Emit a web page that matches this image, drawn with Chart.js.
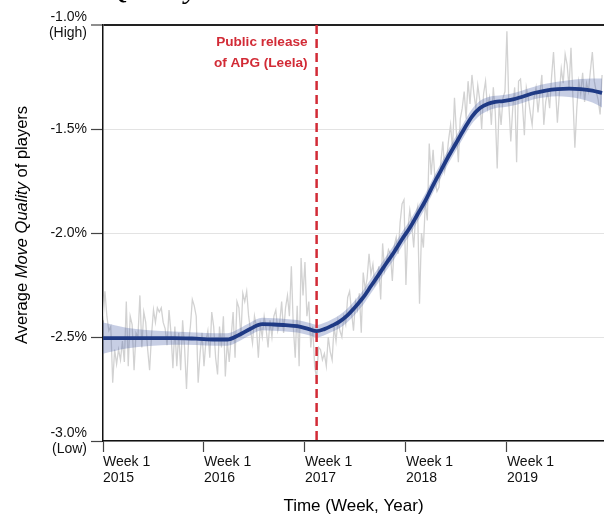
<!DOCTYPE html>
<html>
<head>
<meta charset="utf-8">
<script src="https://cdn.jsdelivr.net/npm/chart.js@4.4.1/dist/chart.umd.min.js"></script>
<style>
  html, body { margin: 0; padding: 0; background: #fff; }
  canvas { display: block; }
</style>
</head>
<body>
<canvas id="qualityChart" width="604" height="515"></canvas>
<script>
//------------------ Data ------------------//
// weekly average move quality (%), week 0 = Week 1 2015
const rawValues = [
  -2.42, -2.28, -2.40, -2.47, -2.45, -2.72, -2.56, -2.63, -2.56, -2.61,
  -2.52, -2.62, -2.33, -2.64, -2.40, -2.44, -2.66, -2.48, -2.50, -2.30,
  -2.55, -2.38, -2.43, -2.56, -2.66, -2.49, -2.37, -2.43, -2.36, -2.38,
  -2.36, -2.43, -2.46, -2.54, -2.37, -2.48, -2.65, -2.45, -2.64, -2.48,
  -2.66, -2.42, -2.55, -2.75, -2.53, -2.45, -2.32, -2.35, -2.40, -2.72,
  -2.58, -2.48, -2.64, -2.52, -2.47, -2.60, -2.38, -2.45, -2.60, -2.68,
  -2.45, -2.55, -2.40, -2.69, -2.52, -2.62, -2.50, -2.38, -2.60, -2.33,
  -2.36, -2.50, -2.29, -2.33, -2.28, -2.40, -2.47, -2.53, -2.40, -2.45,
  -2.60, -2.44, -2.50, -2.40, -2.46, -2.55, -2.42, -2.50, -2.40, -2.37,
  -2.47, -2.43, -2.33, -2.48, -2.36, -2.30, -2.40, -2.16, -2.45, -2.60,
  -2.35, -2.64, -2.12, -2.30, -2.14, -2.40, -2.33, -2.55, -2.45, -2.64,
  -2.70, -2.55, -2.56, -2.61, -2.58, -2.64, -2.50, -2.57, -2.61, -2.45,
  -2.52, -2.42, -2.47, -2.50, -2.40, -2.44, -2.31, -2.28, -2.38, -2.47,
  -2.33, -2.37, -2.29, -2.48, -2.19, -2.27, -2.22, -2.10, -2.20, -2.15,
  -2.25, -2.23, -2.16, -2.32, -2.05, -2.18, -2.13, -2.08, -2.10, -2.23,
  -2.06, -2.02, -2.10, -1.95, -1.86, -1.84, -2.25, -1.98, -1.89, -1.96,
  -2.07, -1.92, -1.875, -2.34, -2.00, -2.07, -1.85, -1.94, -1.57, -1.72,
  -1.60, -1.75, -1.80, -1.78, -1.66, -1.56, -1.70, -1.64, -1.55, -1.48,
  -1.60, -1.35, -1.52, -1.66, -1.45, -1.40, -1.32, -1.45, -1.27, -1.38,
  -1.24, -1.33, -1.40, -1.29, -1.36, -1.50, -1.33, -1.27, -1.40, -1.35,
  -1.48, -1.30, -1.42, -1.69, -1.38, -1.48, -1.35, -1.32, -1.03, -1.38,
  -1.56, -1.40, -1.30, -1.66, -1.27, -1.26, -1.38, -1.53, -1.30, -1.35,
  -1.42, -1.48, -1.35, -1.30, -1.42, -1.33, -1.24, -1.48, -1.37, -1.32,
  -1.40, -1.25, -1.13, -1.30, -1.47, -1.33, -1.21, -1.28, -1.14, -1.19,
  -1.30, -1.11, -1.35, -1.59, -1.40, -1.27, -1.33, -1.23, -1.37, -1.28,
  -1.32, -1.22, -1.13, -1.27, -1.32, -1.36, -1.43, -1.24
];

// smoothed trend + confidence band, sampled at these weeks
const smoothWeeks = [0, 12, 24, 36, 48, 58, 64, 70, 76, 82, 88, 94, 100, 106, 110, 114, 118, 122,
  126, 130, 134, 138, 142, 146, 150, 154, 158, 162, 166, 170, 174, 178, 182, 186, 190, 194, 198,
  202, 206, 210, 216, 222, 228, 234, 240, 246, 252, 257];
const smoothValues = [-2.505, -2.505, -2.505, -2.505, -2.508, -2.512, -2.512, -2.49, -2.46, -2.438,
  -2.44, -2.443, -2.448, -2.462, -2.472, -2.462, -2.445, -2.425, -2.395, -2.355, -2.31, -2.255,
  -2.20, -2.144, -2.09, -2.03, -1.975, -1.91, -1.845, -1.77, -1.70, -1.63, -1.565, -1.50, -1.44,
  -1.40, -1.38, -1.37, -1.366, -1.36, -1.345, -1.327, -1.315, -1.308, -1.306, -1.308, -1.315, -1.327];
const bandUpper = [-2.43, -2.455, -2.467, -2.473, -2.478, -2.482, -2.482, -2.46, -2.43, -2.408,
  -2.41, -2.413, -2.418, -2.432, -2.442, -2.432, -2.415, -2.393, -2.362, -2.321, -2.275, -2.22,
  -2.165, -2.109, -2.055, -1.995, -1.94, -1.875, -1.81, -1.735, -1.665, -1.595, -1.53, -1.465,
  -1.405, -1.365, -1.347, -1.34, -1.336, -1.33, -1.315, -1.297, -1.283, -1.273, -1.266, -1.26,
  -1.257, -1.257];
const bandLower = [-2.58, -2.555, -2.543, -2.537, -2.538, -2.542, -2.542, -2.52, -2.49, -2.468,
  -2.47, -2.473, -2.478, -2.492, -2.502, -2.492, -2.475, -2.457, -2.428, -2.389, -2.345, -2.29,
  -2.235, -2.179, -2.125, -2.065, -2.01, -1.945, -1.88, -1.805, -1.735, -1.665, -1.60, -1.535,
  -1.475, -1.435, -1.413, -1.40, -1.396, -1.39, -1.375, -1.357, -1.347, -1.343, -1.346, -1.356,
  -1.373, -1.397];

const releaseWeek = 110;
const annotationLines = ['Public release', 'of APG (Leela)'];

const xTickWeeks = [0, 52, 104, 156, 208];
const xTickLabels = [['Week 1', '2015'], ['Week 1', '2016'], ['Week 1', '2017'], ['Week 1', '2018'], ['Week 1', '2019']];
const yTickValues = [-3, -2.5, -2, -1.5, -1];
const yTickLabels = [['-3.0%', '(Low)'], '-2.5%', '-2.0%', '-1.5%', ['-1.0%', '(High)']];

const RED = '#d22b36';
const NAVY = '#1f3a85';

const toPoints = (xs, ys) => ys.map((y, i) => ({ x: xs[i], y }));

//------------------ Extra drawing ------------------//
const decorations = {
  id: 'decorations',
  afterDraw(chart) {
    const ctx = chart.ctx;
    const x = chart.scales.x;
    const y = chart.scales.y;

    // annotation next to the release line
    ctx.save();
    ctx.fillStyle = RED;
    ctx.font = 'bold 13.6px "Liberation Sans", Arial, sans-serif';
    ctx.textAlign = 'right';
    ctx.textBaseline = 'middle';
    const ax = x.getPixelForValue(releaseWeek) - 9;
    annotationLines.forEach((t, i) => ctx.fillText(t, ax, y.top + 17 + i * 21));
    ctx.restore();

    // y axis title with italic part
    ctx.save();
    ctx.fillStyle = '#000';
    ctx.textBaseline = 'middle';
    ctx.textAlign = 'left';
    const parts = [
      ['Average ', '16.5px "Liberation Sans", Arial, sans-serif'],
      ['Move Quality', 'italic 16.5px "Liberation Sans", Arial, sans-serif'],
      [' of players', '16.5px "Liberation Sans", Arial, sans-serif']
    ];
    let total = 0;
    parts.forEach(p => { ctx.font = p[1]; total += ctx.measureText(p[0]).width; });
    ctx.translate(22, 225);
    ctx.rotate(-Math.PI / 2);
    let pos = -total / 2;
    parts.forEach(p => {
      ctx.font = p[1];
      ctx.fillText(p[0], pos, 0);
      pos += ctx.measureText(p[0]).width;
    });
    ctx.restore();

    // clipped title at the very top
    ctx.save();
    ctx.fillStyle = '#000';
    ctx.font = 'italic 30px "Liberation Serif", "Times New Roman", serif';
    ctx.textAlign = 'left';
    ctx.textBaseline = 'alphabetic';
    ctx.fillText('Quality', 108, -2);
    ctx.restore();
  }
};

//------------------ Chart ------------------//
const ctx = document.getElementById('qualityChart').getContext('2d');
const chart = new Chart(ctx, {
  type: 'line',
  data: {
    datasets: [
      {
        data: [{ x: releaseWeek, y: -1 }, { x: releaseWeek, y: -3 }],
        borderColor: RED, borderWidth: 2.5, borderDash: [9, 5],
        pointRadius: 0, fill: false
      },
      {
        data: toPoints(smoothWeeks, smoothValues),
        borderColor: NAVY, borderWidth: 3.8,
        cubicInterpolationMode: 'monotone', pointRadius: 0, fill: false
      },
      {
        data: toPoints(smoothWeeks, bandUpper),
        borderWidth: 0, borderColor: 'rgba(0,0,0,0)',
        backgroundColor: 'rgba(70, 92, 165, 0.30)',
        cubicInterpolationMode: 'monotone', pointRadius: 0, fill: '+1'
      },
      {
        data: toPoints(smoothWeeks, bandLower),
        borderWidth: 0, borderColor: 'rgba(0,0,0,0)',
        cubicInterpolationMode: 'monotone', pointRadius: 0, fill: false
      },
      {
        data: rawValues.map((v, i) => ({ x: i, y: v })),
        borderColor: '#d2d2d2', borderWidth: 1.3,
        pointRadius: 0, fill: false, tension: 0
      }
    ]
  },
  options: {
    responsive: false,
    animation: false,
    devicePixelRatio: 1,
    layout: { padding: { top: 25, right: 0, left: 0, bottom: 0 } },
    plugins: { legend: { display: false }, tooltip: { enabled: false } },
    scales: {
      x: {
        type: 'linear',
        min: 0,
        max: 258,
        afterBuildTicks: s => { s.ticks = xTickWeeks.map(v => ({ value: v })); },
        afterFit: s => { s.height = 74; },
        ticks: {
          align: 'start',
          autoSkip: false,
          maxRotation: 0,
          padding: 2,
          color: '#111',
          font: { family: '"Liberation Sans", Arial, sans-serif', size: 14, lineHeight: 1.15 },
          callback: v => xTickLabels[xTickWeeks.indexOf(v)]
        },
        grid: { drawOnChartArea: false, tickLength: 11, tickColor: '#444', tickWidth: 1.2 },
        border: { color: '#111', width: 1.5 },
        title: {
          display: true,
          text: 'Time (Week, Year)',
          color: '#000',
          padding: { top: 0, bottom: 0 },
          font: { family: '"Liberation Sans", Arial, sans-serif', size: 17, lineHeight: 1 }
        }
      },
      y: {
        min: -3,
        max: -1,
        afterBuildTicks: s => { s.ticks = yTickValues.map(v => ({ value: v })); },
        afterFit: s => { s.width = 103; },
        ticks: {
          padding: 4,
          color: '#111',
          font: { family: '"Liberation Sans", Arial, sans-serif', size: 14, lineHeight: 1.15 },
          callback: v => yTickLabels[yTickValues.indexOf(v)]
        },
        grid: {
          color: c => (c.tick && c.tick.value === -1 ? '#222' : '#e3e3e3'),
          lineWidth: c => (c.tick && c.tick.value === -1 ? 2 : 1),
          tickLength: 12,
          tickColor: '#444',
          tickWidth: 1.2
        },
        border: { color: '#111', width: 1.5 }
      }
    }
  },
  plugins: [decorations]
});
</script>
</body>
</html>
